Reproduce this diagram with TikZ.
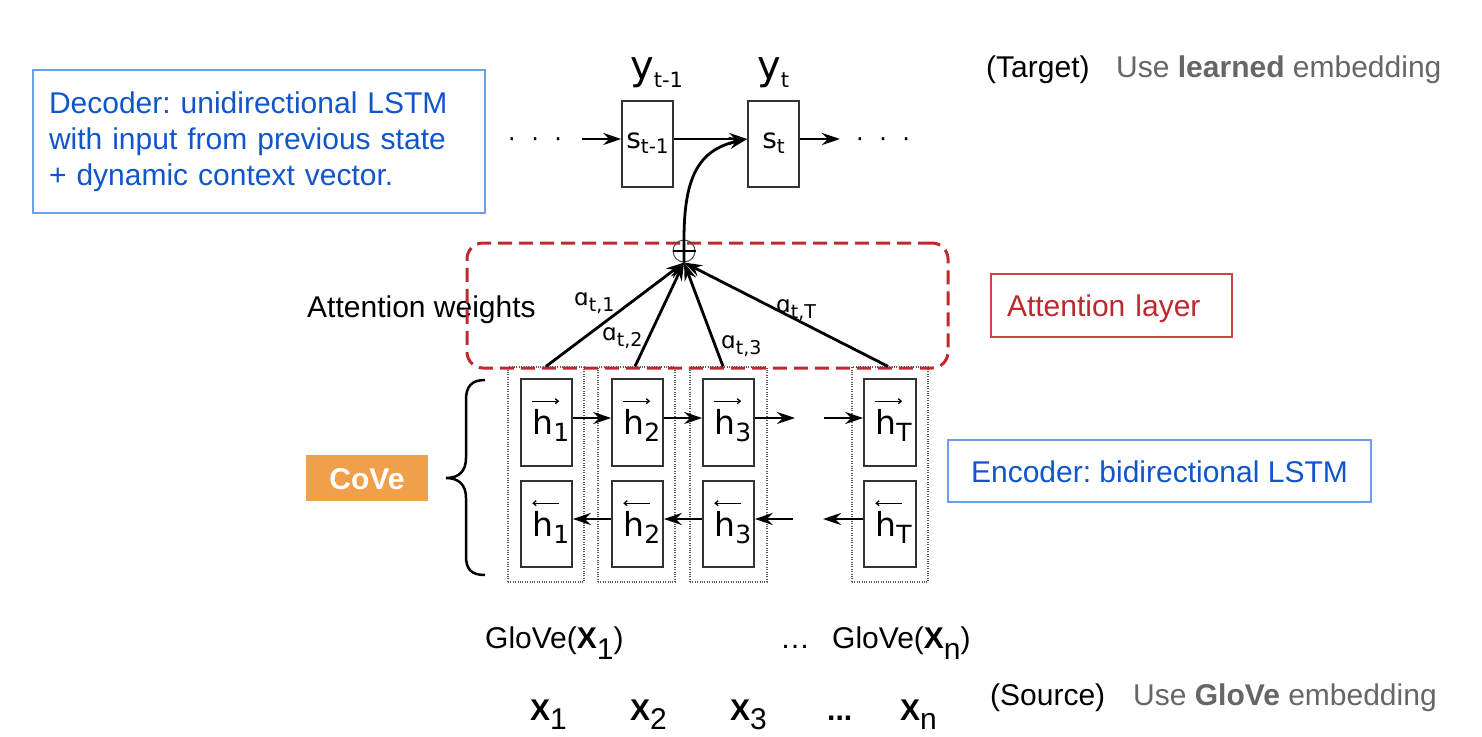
\documentclass[tikz,border=0pt]{standalone}
\usepackage{fontspec}
\setmainfont{Liberation Sans}
\newfontfamily\dvsans{DejaVu Sans}
\usetikzlibrary{arrows.meta,calc}
\definecolor{gblue}{HTML}{1155CC}
\definecolor{gbluel}{HTML}{6D9EEB}
\definecolor{attred}{HTML}{C0282D}
\definecolor{attredl}{HTML}{CC4444}
\definecolor{coveor}{HTML}{F0A04B}
\definecolor{greytxt}{HTML}{666666}
\newcommand\dn[2]{\raisebox{-#1pt}{#2}}
\newcommand\fs[1]{\fontsize{#1}{#1}\selectfont}
\newcommand\hsub[1]{h\dn{7}{\fs{25}#1}}
\frenchspacing
\begin{document}
\begin{tikzpicture}[x=1pt,y=-1pt,
  txt/.style={inner sep=0pt,anchor=base west,font=\fontsize{30}{36}\selectfont},
  dvtxt/.style={inner sep=0pt,anchor=base west,font=\dvsans\fs{#1}},
  cell/.style={draw=black!80,line width=1.6pt,minimum width=51pt,minimum height=86pt,inner sep=0pt},
  col/.style={draw=black!65,line width=1.2pt,dash pattern=on 1pt off 1.4pt,minimum width=76pt,minimum height=215pt,inner sep=0pt},
  arr/.style={line width=2.8pt,-{Stealth[length=18pt,width=12pt,inset=6pt]}},
  ovarr/.style={line width=1.3pt,-{Straight Barb[length=3pt,width=5pt]}},
  gbox/.style={draw=gbluel,line width=1.5pt,text=gblue,font=\fontsize{30}{36}\selectfont,inner sep=0pt},
]
\path[use as bounding box,fill=white] (0,0) rectangle (1482,736);

% ---- left annotations
\node[gbox,minimum width=452pt,minimum height=143pt,text width=420pt,inner xsep=16pt,align=left] (dec) at (259,141.5)
  {Decoder: unidirectional LSTM\\with input from previous state\\+ dynamic context vector.};
\node[txt] (attw) at (307,317) {Attention weights};
\node[fill=coveor,text=white,font=\bfseries\fontsize{30}{36}\selectfont,minimum width=122pt,minimum height=46pt,text height=22pt,text depth=0pt,inner sep=0pt] (cove) at (367,478) {CoVe};
\draw[line width=2.5pt] (485,380) .. controls (471,380) and (466,387) .. (466,400) -- (466,458)
  .. controls (466,471) and (459,478) .. (446,478) .. controls (459,478) and (466,485) .. (466,498)
  -- (466,556) .. controls (466,569) and (471,575) .. (485,575);

% ---- right annotations
\node[txt] (tgt) at (986,77) {(Target)};
\node[txt,text=greytxt] (tgtuse) at (1116,77) {Use \textbf{learned} embedding};
\node[draw=attredl,line width=1.5pt,text=attred,font=\fontsize{30}{36}\selectfont,minimum width=241pt,minimum height=63pt,text height=22pt,text depth=0pt,inner ysep=0pt,inner xsep=16pt,text width=209pt,align=left] (attl) at (1111.5,305.5) {Attention layer};
\node[gbox,minimum width=423pt,minimum height=62pt,text height=22pt,text depth=0pt] (enc) at (1159.5,471) {Encoder: bidirectional LSTM};
\node[txt] (src) at (990,705) {(Source)};
\node[txt,text=greytxt] (srcuse) at (1133,705) {Use \textbf{GloVe} embedding};

% ---- decoder
\node[dvtxt=40] (y1) at (630,79) {y\dn{8}{\fs{21}t-1}};
\node[dvtxt=40] (y2) at (757,79) {y\dn{8}{\fs{21}t}};
\node[cell] (st1) at (647.5,144) {};
\node[cell] (st) at (773.5,144) {};
\node[dvtxt=28,anchor=base] (st1l) at ($(st1.center)+(0,4)$) {s\dn{5}{\fs{20}t-1}};
\node[dvtxt=28,anchor=base] (stl) at ($(st.center)+(0,4)$) {s\dn{5}{\fs{20}t}};
\node[dvtxt=24] (ldots) at (508,147) {·\hspace{15.5pt}·\hspace{15.5pt}·};
\node[dvtxt=24] (rdots) at (856,147) {·\hspace{15.5pt}·\hspace{15.5pt}·};
\coordinate (sin) at (582,139);
\coordinate (sout) at (840,139);
\draw[arr] (sin) -- ([yshift=5pt]st1.west);
\draw[arr] ([yshift=5pt]st1.east) -- ([yshift=5pt]st.west);
\draw[arr] ([yshift=5pt]st.east) -- (sout);

% ---- encoder columns
\node[col] (c1) at (546,474.5) {};
\node[col,minimum width=77pt] (c2) at (636.5,474.5) {};
\node[col,minimum width=77pt] (c3) at (728.5,474.5) {};
\node[col] (c4) at (890,474.5) {};
\node[cell,minimum height=87pt] (f1) at (546.5,422.5) {};
\node[cell,minimum height=87pt] (f2) at (637.5,422.5) {};
\node[cell,minimum height=87pt] (f3) at (728.5,422.5) {};
\node[cell,minimum height=87pt,minimum width=52pt] (fT) at (890,422.5) {};
\node[cell] (b1) at (546.5,524) {};
\node[cell] (b2) at (637.5,524) {};
\node[cell] (b3) at (728.5,524) {};
\node[cell,minimum width=52pt] (bT) at (890,524) {};
\foreach \c/\s in {f1/1,f2/2,f3/3,fT/T}{
  \node[dvtxt=33] (\c l) at ($(\c.north west)+(12,56)$) {\hsub{\s}};
  \draw[ovarr] ($(\c.north west)+(12,23)$) -- ($(\c.north west)+(39,23)$);
}
\foreach \c/\s in {b1/1,b2/2,b3/3,bT/T}{
  \node[dvtxt=33] (\c l) at ($(\c.north west)+(12,56)$) {\hsub{\s}};
  \draw[ovarr] ($(\c.north west)+(39,23)$) -- ($(\c.north west)+(12,23)$);
}
\coordinate (f3end) at (795,418);
\coordinate (fTin) at (824,418);
\coordinate (b3in) at (793,519);
\coordinate (bTend) at (823,519);
\draw[arr] ([yshift=4.5pt]f1.east) -- ([yshift=4.5pt]f2.west);
\draw[arr] ([yshift=4.5pt]f2.east) -- ([yshift=4.5pt]f3.west);
\draw[arr] ([yshift=4.5pt]f3.east) -- (f3end);
\draw[arr] (fTin) -- ([yshift=4.5pt]fT.west);
\draw[arr] ([yshift=5pt]b2.west) -- ([yshift=5pt]b1.east);
\draw[arr] ([yshift=5pt]b3.west) -- ([yshift=5pt]b2.east);
\draw[arr] (b3in) -- ([yshift=5pt]b3.east);
\draw[arr] ([yshift=5pt]bT.west) -- (bTend);

% ---- attention layer
\node[draw=attred,line width=3pt,dash pattern=on 14pt off 7pt,rounded corners=16pt,minimum width=481pt,minimum height=125pt,inner sep=0pt] (attbox) at (707.5,305.5) {};
\node[circle,draw=black!70,line width=1pt,minimum size=22pt,inner sep=0pt] (plus) at (684,251) {};
\draw[line width=2.6pt] (plus.west) -- (plus.east);
\draw[arr] (c1.north) -- (plus.south);
\draw[arr] ([xshift=-1.5pt]c2.north) -- (plus.south);
\draw[arr] ([xshift=-5.5pt]c3.north) -- (plus.south);
\draw[arr] ([xshift=-2pt]c4.north) -- (plus.south);
\draw[arr] (plus.south) -- (plus.north) .. controls (684,178) and (698,150) .. ([yshift=5pt]st.west);
\node[dvtxt=23] (a1) at (574,305) {ɑ\dn{6}{\fs{19}t,1}};
\node[dvtxt=23] (a2) at (602,340) {ɑ\dn{6}{\fs{19}t,2}};
\node[dvtxt=23] (a3) at (721,348) {ɑ\dn{6}{\fs{19}t,3}};
\node[dvtxt=23] (aT) at (776,312) {ɑ\dn{6}{\fs{19}t,T}};

% ---- inputs
\node[txt] (g1) at (485,648) {GloVe(\textbf{X}\dn{11}{1})};
\node[txt] (gdots) at (780,648) {…};
\node[txt] (gn) at (832,648) {GloVe(\textbf{X}\dn{11}{n})};
\node[txt] (x1) at (530,720) {\textbf{X}\dn{9}{1}};
\node[txt] (x2) at (630,720) {\textbf{X}\dn{9}{2}};
\node[txt] (x3) at (730,720) {\textbf{X}\dn{9}{3}};
\node[txt] (xdots) at (827,720) {\textbf{...}};
\node[txt] (xn) at (900,720) {\textbf{X}\dn{9}{n}};
\end{tikzpicture}
\end{document}
